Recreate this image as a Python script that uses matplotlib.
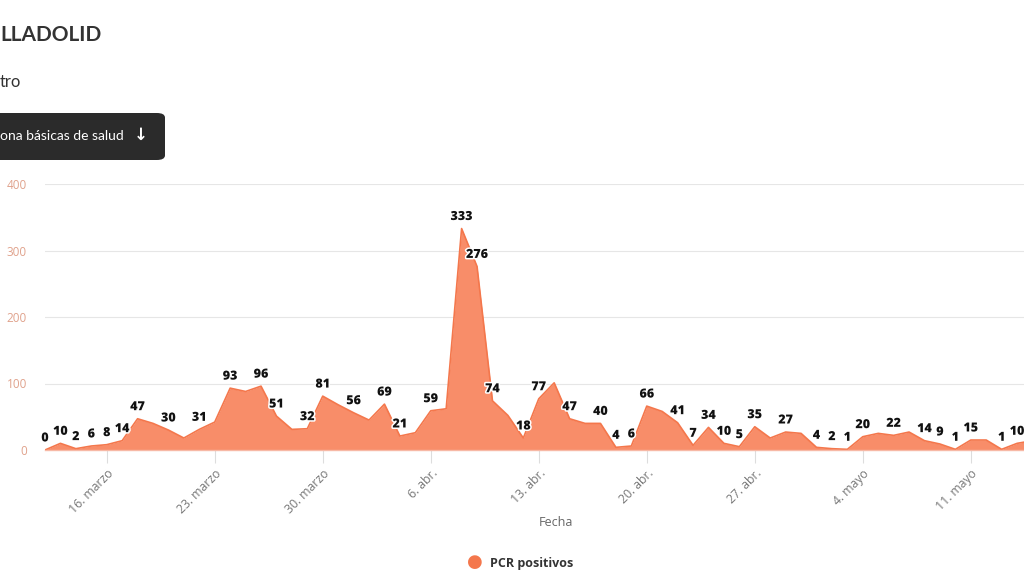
import matplotlib
matplotlib.use("Agg")
import matplotlib.pyplot as plt
import matplotlib.patheffects as pe
from matplotlib.patches import FancyBboxPatch
import numpy as np
import pandas as pd

# ---- data ----
start_date = "2020-03-12"
pcr_positivos = [0, 10, 2, 6, 8, 14, 47, 40, 30, 18, 31, 42, 93, 88, 96, 51, 31, 32, 81, 68,
                 56, 45, 69, 21, 26, 59, 62, 333, 276, 74, 52, 18, 77, 101, 47, 40, 40, 4, 6, 66,
                 58, 41, 7, 34, 10, 5, 35, 18, 27, 25, 4, 2, 1, 20, 25, 22, 27, 14, 9, 1,
                 15, 15, 1, 10, 14]
label_shown = [1, 1, 1, 1, 1, 1, 1, 0, 1, 0, 1, 0, 1, 0, 1, 1, 0, 1, 1, 0,
               1, 0, 1, 1, 0, 1, 0, 1, 1, 1, 0, 1, 1, 0, 1, 0, 1, 1, 1, 1,
               0, 1, 1, 1, 1, 1, 1, 0, 1, 0, 1, 1, 1, 1, 0, 1, 0, 1, 1, 1,
               1, 0, 1, 1, 0]
tick_dates = ["2020-03-16", "2020-03-23", "2020-03-30", "2020-04-06", "2020-04-13",
              "2020-04-20", "2020-04-27", "2020-05-04", "2020-05-11"]
tick_labels = ["16. marzo", "23. marzo", "30. marzo", "6. abr.", "13. abr.",
               "20. abr.", "27. abr.", "4. mayo", "11. mayo"]
y_ticks = [0, 100, 200, 300, 400]
series_name = "PCR positivos"

dates = pd.date_range(start_date, periods=len(pcr_positivos), freq="D")
d0 = dates[0]
x = np.array([(d - d0).days for d in dates])
tick_x = [(pd.Timestamp(t) - d0).days for t in tick_dates]

W, H = 1024, 576
fig = plt.figure(figsize=(W / 100, H / 100), dpi=100)
fig.patch.set_facecolor("white")

px_per_day = 15.43
left_px, zero_px, top_px = 45, 450, 184
ax = fig.add_axes([left_px / W, 1 - zero_px / H, (W - left_px) / W, (zero_px - top_px) / H])
ax.set_xlim(0, (W - left_px) / px_per_day)
ax.set_ylim(0, 400)

line_c = "#f4774c"
fill_c = "#f88d69"
ax.fill_between(x, pcr_positivos, 0, color=fill_c, linewidth=0, zorder=2)
ax.plot(x, pcr_positivos, color=line_c, linewidth=1.2, zorder=3)

# data labels
for xi, yi, show in zip(x, pcr_positivos, label_shown):
    if show:
        t = ax.annotate(str(yi), (xi, yi), xytext=(0, 4), textcoords="offset points",
                        ha="center", va="bottom", fontsize=9, fontweight="heavy",
                        color="#111111", zorder=5, family="Open Sans")
        t.set_path_effects([pe.withStroke(linewidth=2.2, foreground="white")])

# grid
ax.set_yticks(y_ticks)
ax.yaxis.grid(True, color="#e6e6e6", linewidth=0.8, zorder=0)
ax.set_axisbelow(True)
for s in ["top", "right", "left"]:
    ax.spines[s].set_visible(False)
ax.spines["bottom"].set_color("#f7b9a6")
ax.spines["bottom"].set_linewidth(1.0)
ax.spines["bottom"].set_zorder(4)

ax.tick_params(axis="y", length=0, pad=13, labelsize=8.5, labelcolor="#e0a28c")
for lab in ax.get_yticklabels():
    lab.set_family("Open Sans")

ax.set_xticks(tick_x)
ax.set_xticklabels(tick_labels, rotation=45, ha="right", rotation_mode="anchor",
                   fontsize=8.8, color="#777777", family="Open Sans")
ax.tick_params(axis="x", length=9, color="#dddddd", width=0.8, pad=3)

fig.text(556 / W, 1 - 522 / H, "Fecha", ha="center", va="center", fontsize=9,
         color="#666666", family="Open Sans")

# legend
fig.text(475 / W, 1 - 562 / H, "\u25CF", ha="center", va="center", fontsize=13,
         color=line_c, family="DejaVu Sans")
fig.text(490 / W, 1 - 563 / H, series_name, ha="left", va="center", fontsize=9,
         fontweight="bold", color="#333333", family="Open Sans")

# header (cropped page)
fig.text(0 / W, 1 - 35 / H, "LLADOLID", ha="left", va="center", fontsize=15,
         fontweight="bold", color="#333333", family="Lato")
fig.text(0 / W, 1 - 82 / H, "tro", ha="left", va="center", fontsize=12,
         color="#333333", family="Lato")
box = FancyBboxPatch((-20 / W, 1 - 160 / H), 185 / W, 47 / H,
                     boxstyle="round,pad=0,rounding_size=0.008",
                     transform=fig.transFigure, facecolor="#2b2b2b", edgecolor="none")
fig.patches.append(box)
fig.text(0 / W, 1 - 136 / H, "ona básicas de salud", ha="left", va="center",
         fontsize=10, color="white", family="Lato")
fig.text(141 / W, 1 - 135 / H, "\u2193", ha="center", va="center",
         fontsize=12, fontweight="bold", color="white", family="DejaVu Sans")

fig.savefig("out.png", dpi=100)
